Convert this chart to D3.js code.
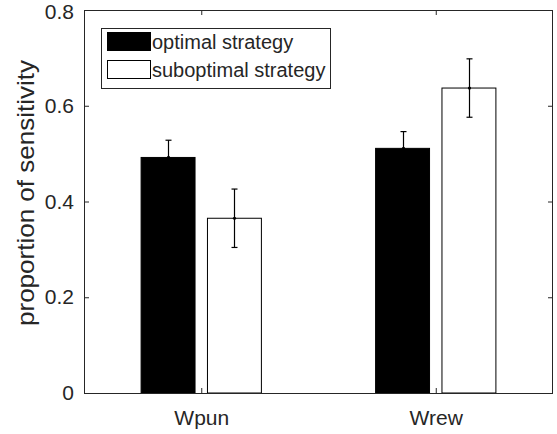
<!DOCTYPE html>
<html>
<head>
<meta charset="utf-8">
<script src="https://cdn.jsdelivr.net/npm/d3@7"></script>
<style>
  html, body { margin: 0; padding: 0; background: #fff; }
  svg { display: block; }
  text { font-family: "Liberation Sans", Arial, sans-serif; fill: #262626; }
</style>
</head>
<body>
<svg id="chart" width="557" height="434"></svg>
<script>
const categories = ["Wpun", "Wrew"];
const seriesNames = ["optimal strategy", "suboptimal strategy"];
const optimal = [0.492, 0.511];
const suboptimal = [0.365, 0.637];
const optimalErr = [0.036, 0.035];
const suboptimalErr = [0.061, 0.061];
const yTicks = [0, 0.2, 0.4, 0.6, 0.8];

const svg = d3.select("#chart");
const mLeft = 84, mRight = 553, mTop = 10, mBottom = 393;
const axisColor = "#262626";

const x = d3.scaleLinear().domain([0.5, 2.5]).range([mLeft, mRight]);
const y = d3.scaleLinear().domain([0, 0.8]).range([mBottom, mTop]);

const series = [
  { name: seriesNames[0], values: optimal, errs: optimalErr, fill: "#000", offset: -0.1415 },
  { name: seriesNames[1], values: suboptimal, errs: suboptimalErr, fill: "#fff", offset: 0.1415 }
];
const barW = 0.23;

// bars
series.forEach(s => {
  svg.append("g").selectAll("rect").data(s.values).join("rect")
    .attr("x", (d, i) => x(i + 1 + s.offset - barW / 2))
    .attr("y", d => y(d))
    .attr("width", x(barW) - x(0))
    .attr("height", d => y(0) - y(d))
    .attr("fill", s.fill)
    .attr("stroke", "#000")
    .attr("stroke-width", 1);
});

// error bars
series.forEach(s => {
  const g = svg.append("g");
  s.values.forEach((v, i) => {
    const cx = Math.round(x(i + 1 + s.offset)) + 0.5;
    const y1 = y(v + s.errs[i]), y2 = y(v - s.errs[i]);
    g.append("line").attr("x1", cx).attr("x2", cx).attr("y1", y1).attr("y2", y2)
      .attr("stroke", "#000").attr("stroke-width", 1.2);
    [y1, y2].forEach(yy => {
      g.append("line").attr("x1", cx - 3).attr("x2", cx + 3).attr("y1", yy).attr("y2", yy)
        .attr("stroke", "#000").attr("stroke-width", 1.2);
    });
    g.append("circle").attr("cx", cx).attr("cy", y(v)).attr("r", 1.6).attr("fill", "#000");
  });
});

// axes
const yAxis = d3.axisLeft(y).tickValues(yTicks).tickSize(-5).tickPadding(10)
  .tickFormat(d => d === 0 ? "0" : d3.format(".1f")(d));
const gy = svg.append("g").attr("transform", `translate(${mLeft},0)`).call(yAxis);
gy.select(".domain").remove();
gy.selectAll(".tick line").attr("stroke", axisColor);
gy.selectAll("text").attr("font-size", 21).attr("fill", axisColor)
  .style("font-family", "'Liberation Sans', Arial, sans-serif");
gy.selectAll(".tick").filter(d => d === 0.8).select("text").attr("dy", "0.42em");

const yAxisR = d3.axisRight(y).tickValues(yTicks).tickSize(-5).tickFormat("");
const gyr = svg.append("g").attr("transform", `translate(${mRight},0)`).call(yAxisR);
gyr.select(".domain").remove();
gyr.selectAll(".tick line").attr("stroke", axisColor);

const xAxis = d3.axisBottom(x).tickValues([1, 2]).tickSize(-5).tickPadding(17)
  .tickFormat(d => categories[d - 1]);
const gx = svg.append("g").attr("transform", `translate(0,${mBottom})`).call(xAxis);
gx.select(".domain").remove();
gx.selectAll(".tick line").attr("stroke", axisColor);
gx.selectAll("text").attr("font-size", 21).attr("fill", axisColor)
  .style("font-family", "'Liberation Sans', Arial, sans-serif");

const xAxisT = d3.axisTop(x).tickValues([1, 2]).tickSize(-5).tickFormat("");
const gxt = svg.append("g").attr("transform", `translate(0,${mTop})`).call(xAxisT);
gxt.select(".domain").remove();
gxt.selectAll(".tick line").attr("stroke", axisColor);

// box
svg.append("rect").attr("x", mLeft + 0.5).attr("y", mTop + 0.5)
  .attr("width", mRight - mLeft - 1).attr("height", mBottom - mTop)
  .attr("fill", "none").attr("stroke", axisColor).attr("stroke-width", 1);

// y label
svg.append("text")
  .attr("transform", `translate(34,193) rotate(-90)`)
  .attr("text-anchor", "middle")
  .attr("font-size", 24)
  .attr("textLength", 266)
  .attr("lengthAdjust", "spacingAndGlyphs")
  .text("proportion of sensitivity");

// legend
const lg = svg.append("g");
lg.append("rect").attr("x", 101.5).attr("y", 28.5).attr("width", 229).attr("height", 60)
  .attr("fill", "#fff").attr("stroke", axisColor).attr("stroke-width", 1);
series.forEach((s, i) => {
  const yy = 32.5 + i * 28;
  lg.append("rect").attr("x", 107.5).attr("y", yy).attr("width", 43).attr("height", 18)
    .attr("fill", s.fill).attr("stroke", "#000").attr("stroke-width", 1);
  lg.append("text").attr("x", 152).attr("y", yy + 9).attr("dy", "0.35em")
    .attr("font-size", 20).attr("fill", "#000").text(s.name);
});
</script>
</body>
</html>
